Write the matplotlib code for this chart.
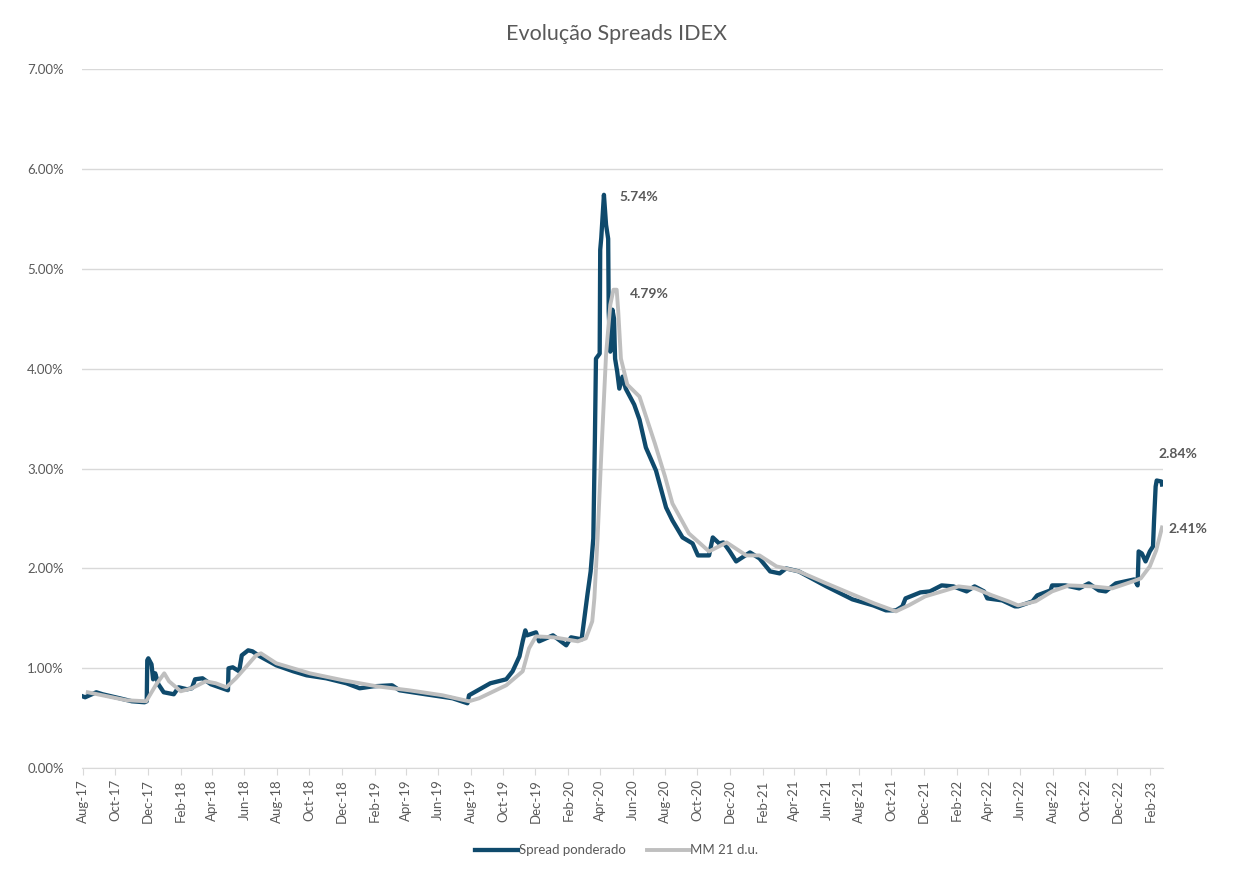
import matplotlib
matplotlib.use('Agg')
import matplotlib.pyplot as plt
import matplotlib.dates as mdates
from matplotlib.ticker import FuncFormatter, MultipleLocator
import pandas as pd

plt.rcParams['font.family'] = ['Lato', 'DejaVu Sans']

# Spread ponderado (% a.a.)
spread_dates = [
    '2017-07-31', '2017-08-05', '2017-08-26', '2017-09-07', '2017-10-09', '2017-11-01',
    '2017-11-25', '2017-11-29', '2017-11-30', '2017-12-02', '2017-12-08', '2017-12-11',
    '2017-12-15', '2017-12-21', '2017-12-31', '2018-01-19', '2018-01-28', '2018-02-13',
    '2018-02-22', '2018-02-28', '2018-03-14', '2018-03-30', '2018-04-15', '2018-05-01',
    '2018-05-02', '2018-05-10', '2018-05-22', '2018-05-27', '2018-06-08', '2018-06-16',
    '2018-06-30', '2018-07-31', '2018-09-01', '2018-09-26', '2018-11-02', '2018-12-10',
    '2019-01-04', '2019-01-30', '2019-03-06', '2019-03-20', '2019-05-08', '2019-06-28',
    '2019-07-26', '2019-07-29', '2019-08-31', '2019-09-07', '2019-10-07', '2019-10-19',
    '2019-11-01', '2019-11-07', '2019-11-12', '2019-11-15', '2019-12-02', '2019-12-08',
    '2020-01-03', '2020-01-28', '2020-02-06', '2020-02-26', '2020-03-08', '2020-03-14',
    '2020-03-19', '2020-03-22', '2020-03-24', '2020-03-31', '2020-04-01', '2020-04-03',
    '2020-04-08', '2020-04-12', '2020-04-16', '2020-04-17', '2020-04-20', '2020-04-24',
    '2020-04-27', '2020-04-29', '2020-05-03', '2020-05-07', '2020-05-13', '2020-05-19',
    '2020-06-04', '2020-06-14', '2020-06-26', '2020-07-15', '2020-08-03', '2020-08-15',
    '2020-09-03', '2020-09-22', '2020-10-02', '2020-10-23', '2020-10-30', '2020-11-11',
    '2020-11-19', '2020-12-01', '2020-12-13', '2021-01-08', '2021-01-26', '2021-02-15',
    '2021-03-05', '2021-03-17', '2021-04-10', '2021-06-01', '2021-07-20', '2021-08-28',
    '2021-09-21', '2021-10-10', '2021-10-22', '2021-10-28', '2021-11-25', '2021-12-13',
    '2022-01-04', '2022-01-26', '2022-02-20', '2022-03-07', '2022-03-25', '2022-03-31',
    '2022-04-28', '2022-05-22', '2022-05-28', '2022-06-24', '2022-07-03', '2022-07-28',
    '2022-07-31', '2022-08-25', '2022-09-20', '2022-10-08', '2022-10-27', '2022-11-09',
    '2022-11-28', '2023-01-02', '2023-01-08', '2023-01-10', '2023-01-16', '2023-01-23',
    '2023-01-31', '2023-02-06', '2023-02-08', '2023-02-11', '2023-02-13', '2023-02-22',
    '2023-02-23',
]
spread_vals = [
    0.72, 0.71, 0.76, 0.74, 0.70, 0.67,
    0.66, 0.67, 1.08, 1.10, 1.04, 0.89,
    0.95, 0.84, 0.76, 0.74, 0.81, 0.79,
    0.80, 0.89, 0.90, 0.84, 0.81, 0.78,
    1.00, 1.01, 0.97, 1.13, 1.18, 1.17,
    1.12, 1.03, 0.97, 0.93, 0.90, 0.85,
    0.80, 0.82, 0.83, 0.78, 0.74, 0.70,
    0.65, 0.73, 0.83, 0.85, 0.89, 0.97,
    1.12, 1.27, 1.38, 1.33, 1.36, 1.27,
    1.33, 1.23, 1.31, 1.29, 1.74, 1.97,
    2.30, 3.30, 4.10, 4.15, 5.19, 5.31,
    5.74, 5.44, 5.30, 4.57, 4.17, 4.59,
    4.50, 4.10, 3.97, 3.80, 3.92, 3.80,
    3.64, 3.49, 3.21, 2.98, 2.61, 2.48,
    2.31, 2.25, 2.13, 2.13, 2.31, 2.25,
    2.26, 2.17, 2.07, 2.16, 2.10, 1.97,
    1.95, 2.00, 1.97, 1.82, 1.69, 1.63,
    1.58, 1.58, 1.62, 1.70, 1.76, 1.77,
    1.83, 1.82, 1.77, 1.82, 1.77, 1.70,
    1.68, 1.62, 1.62, 1.67, 1.73, 1.78,
    1.83, 1.83, 1.80, 1.85, 1.78, 1.77,
    1.85, 1.89, 1.83, 2.17, 2.15, 2.07,
    2.17, 2.22, 2.48, 2.82, 2.88, 2.87,
    2.84,
]

# Media movel 21 dias uteis
mm_dates = [
    '2017-08-10', '2017-10-22', '2017-11-28', '2017-12-17', '2018-01-01', '2018-01-10',
    '2018-02-01', '2018-02-22', '2018-03-20', '2018-04-08', '2018-04-28', '2018-05-16',
    '2018-06-05', '2018-06-23', '2018-07-02', '2018-07-31', '2018-10-02', '2018-12-04',
    '2019-02-05', '2019-04-07', '2019-06-09', '2019-07-29', '2019-08-17', '2019-10-07',
    '2019-11-07', '2019-11-19', '2019-12-02', '2020-01-05', '2020-02-19', '2020-03-05',
    '2020-03-17', '2020-03-21', '2020-03-27', '2020-04-03', '2020-04-12', '2020-04-20',
    '2020-04-26', '2020-05-02', '2020-05-05', '2020-05-10', '2020-05-22', '2020-06-14',
    '2020-07-13', '2020-08-01', '2020-08-15', '2020-09-15', '2020-10-23', '2020-11-25',
    '2021-01-01', '2021-01-26', '2021-02-27', '2021-04-10', '2021-06-01', '2021-07-20',
    '2021-08-30', '2021-10-10', '2021-11-03', '2021-12-04', '2022-01-11', '2022-02-05',
    '2022-03-08', '2022-04-09', '2022-05-10', '2022-05-28', '2022-06-30', '2022-07-31',
    '2022-09-01', '2022-10-15', '2022-11-21', '2022-12-30', '2023-01-14', '2023-01-31',
    '2023-02-12', '2023-02-23',
]
mm_vals = [
    0.76, 0.68, 0.67, 0.84, 0.95, 0.87,
    0.77, 0.80, 0.87, 0.85, 0.81, 0.90,
    1.02, 1.13, 1.15, 1.05, 0.95, 0.88,
    0.82, 0.78, 0.73, 0.67, 0.70, 0.83,
    0.97, 1.20, 1.32, 1.31, 1.27, 1.30,
    1.47, 1.70, 2.30, 3.14, 4.14, 4.64,
    4.79, 4.79, 4.57, 4.10, 3.84, 3.72,
    3.25, 2.92, 2.65, 2.35, 2.17, 2.26,
    2.13, 2.13, 2.02, 1.97, 1.85, 1.74,
    1.65, 1.57, 1.63, 1.72, 1.78, 1.82,
    1.80, 1.73, 1.67, 1.63, 1.67, 1.77,
    1.83, 1.82, 1.80, 1.87, 1.90, 2.02,
    2.18, 2.41,
]

spread = pd.Series(spread_vals, index=pd.to_datetime(spread_dates))
mm = pd.Series(mm_vals, index=pd.to_datetime(mm_dates))

dark = '#0f4a6c'
grey = '#bfbfbf'
txt = '#595959'

fig = plt.figure(figsize=(12.36, 8.84), dpi=100)
ax = fig.add_axes([0.0663, 0.131, 0.8747, 0.791])

ax.plot(spread.index, spread.values, color=dark, lw=3.1, label='Spread ponderado',
        solid_joinstyle='round', zorder=3)
ax.plot(mm.index, mm.values, color=grey, lw=2.8, label='MM 21 d.u.',
        solid_joinstyle='round', zorder=4)

ax.set_ylim(0, 7)
ax.set_xlim(pd.Timestamp('2017-07-30'), pd.Timestamp('2023-02-25'))
ax.yaxis.set_major_locator(MultipleLocator(1))
ax.yaxis.set_major_formatter(FuncFormatter(lambda v, p: '%.2f%%' % v))
ax.xaxis.set_major_locator(mdates.MonthLocator(bymonth=[2, 4, 6, 8, 10, 12]))
ax.xaxis.set_major_formatter(mdates.DateFormatter('%b-%y'))
ax.grid(axis='y', color='#d9d9d9', lw=1)
ax.set_axisbelow(True)
for s in ['top', 'right', 'left']:
    ax.spines[s].set_visible(False)
ax.spines['bottom'].set_color('#d9d9d9')
ax.tick_params(axis='y', length=0, labelsize=9.5, labelcolor=txt, pad=13)
ax.tick_params(axis='x', length=5, color='#d9d9d9', labelsize=9.5, labelcolor=txt,
               labelrotation=90, pad=3)

# labels on peaks and last values
pk = spread.idxmax()
ax.annotate('%.2f%%' % spread.max(), (pk, spread.max()), xytext=(16, -2),
            textcoords='offset pixels', fontsize=10, fontweight='bold', color=txt,
            va='center', ha='left')
pm = mm.idxmax()
ax.annotate('%.2f%%' % mm.max(), (pm, mm.max()), xytext=(16, -4),
            textcoords='offset pixels', fontsize=10, fontweight='bold', color=txt,
            va='center', ha='left')
ax.annotate('%.2f%%' % spread.iloc[-1], (spread.index[-1], spread.iloc[-1]), xytext=(-4, 31),
            textcoords='offset pixels', fontsize=10, fontweight='bold', color=txt,
            va='center', ha='left', annotation_clip=False)
ax.annotate('%.2f%%' % mm.iloc[-1], (mm.index[-1], mm.iloc[-1]), xytext=(6, -2),
            textcoords='offset pixels', fontsize=10, fontweight='bold', color=txt,
            va='center', ha='left', annotation_clip=False)

fig.text(0.4985, 0.961, 'Evolução Spreads IDEX', ha='center', va='center',
         fontsize=15.5, color=txt)

fig.legend(loc='center', bbox_to_anchor=(0.499, 0.038), ncol=2, frameon=False,
           fontsize=9.5, handlelength=3.2, handletextpad=0.1, columnspacing=1.6,
           labelcolor=txt)

fig.savefig('out.png', dpi=100, facecolor='white')
